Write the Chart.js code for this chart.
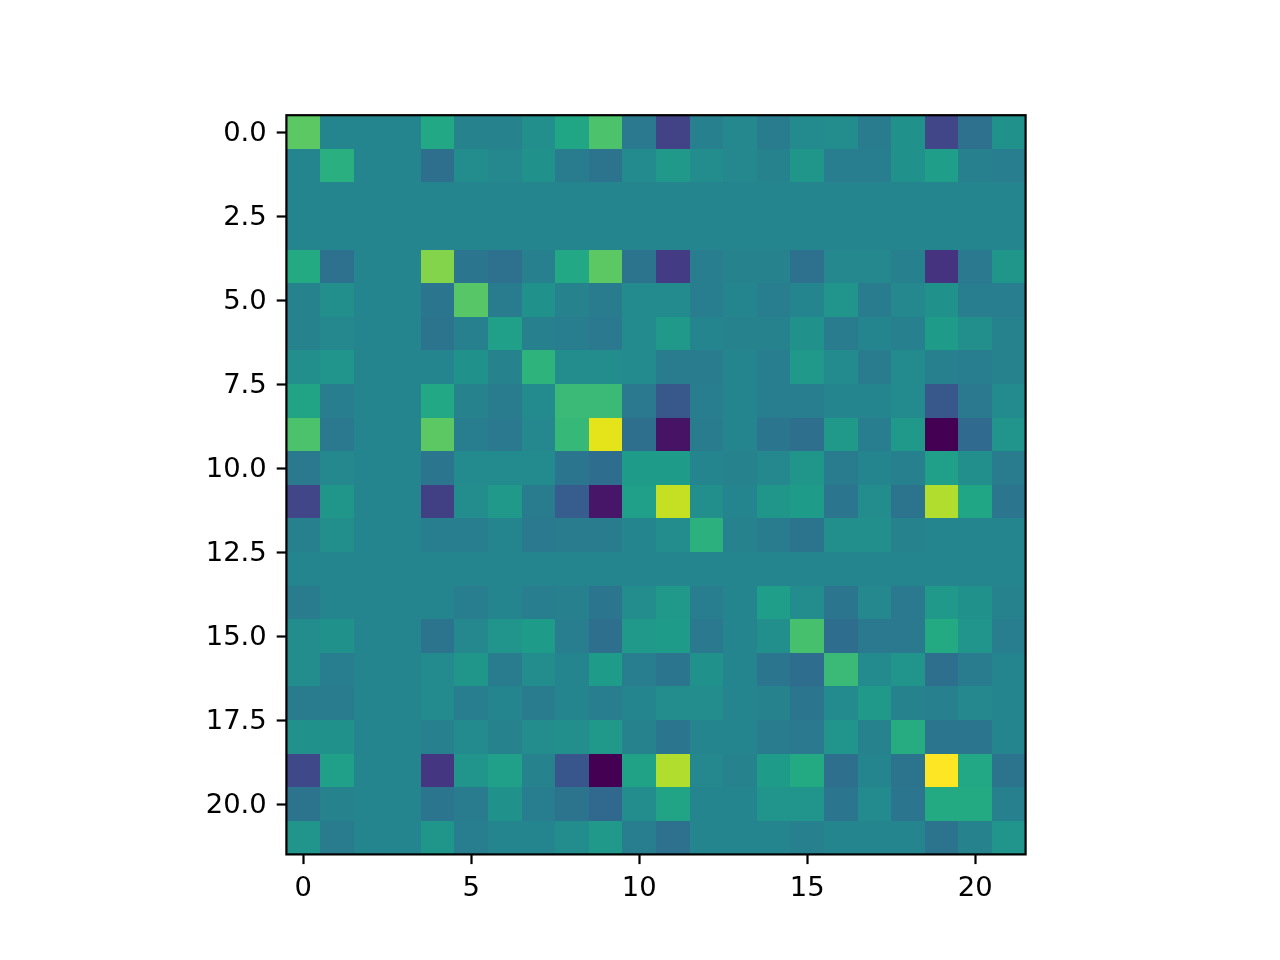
<!DOCTYPE html>
<html><head><meta charset="utf-8">
<style>html,body{margin:0;padding:0;background:#fff}canvas{display:block}</style>
<script src="https://cdn.jsdelivr.net/npm/chart.js@4"></script>
</head><body><canvas id="c" width="1280" height="960"></canvas>
<script>
const xTicks=[0,5,10,15,20];
const yTicks=[0,2.5,5,7.5,10,12.5,15,17.5,20];
const row0=[.74,.44,.44,.44,.59,.43,.43,.48,.58,.71,.39,.18,.42,.45,.40,.46,.47,.40,.49,.19,.36,.49];
const row1=[.44,.62,.44,.44,.35,.47,.45,.49,.40,.37,.46,.52,.47,.45,.43,.51,.41,.41,.49,.54,.42,.41];
const row2=[.44,.44,.44,.44,.44,.44,.44,.44,.44,.44,.44,.44,.44,.44,.44,.44,.44,.44,.44,.44,.44,.44];
const row3=[.44,.44,.44,.44,.44,.44,.44,.44,.44,.44,.44,.44,.44,.44,.44,.44,.44,.44,.44,.44,.44,.44];
const row4=[.60,.36,.44,.44,.81,.38,.36,.42,.59,.74,.37,.16,.41,.43,.43,.36,.45,.45,.42,.13,.39,.51];
const row5=[.43,.48,.44,.44,.38,.73,.40,.49,.43,.40,.46,.46,.41,.44,.41,.44,.50,.40,.45,.49,.41,.41];
const row6=[.43,.45,.44,.44,.37,.42,.55,.42,.41,.39,.46,.52,.44,.43,.43,.49,.40,.44,.42,.53,.48,.43];
const row7=[.48,.50,.44,.44,.44,.49,.43,.64,.47,.47,.46,.40,.40,.44,.41,.52,.46,.40,.46,.42,.41,.43];
const row8=[.57,.41,.44,.44,.59,.43,.40,.46,.67,.67,.39,.26,.41,.44,.41,.41,.44,.44,.46,.26,.39,.46];
const row9=[.71,.39,.44,.44,.74,.41,.39,.45,.66,.96,.35,.03,.40,.44,.38,.35,.52,.41,.52,-.02,.33,.50];
const row10=[.39,.45,.44,.44,.38,.46,.46,.46,.38,.34,.53,.53,.44,.43,.45,.51,.40,.44,.42,.55,.48,.40];
const row11=[.19,.51,.44,.44,.17,.47,.52,.40,.28,.04,.55,.91,.48,.44,.51,.53,.38,.47,.37,.88,.58,.38];
const row12=[.42,.48,.44,.44,.41,.41,.44,.39,.40,.40,.44,.47,.63,.43,.40,.37,.48,.48,.43,.44,.44,.44];
const row13=[.44,.44,.44,.44,.44,.44,.44,.44,.44,.44,.44,.44,.44,.44,.44,.44,.44,.44,.44,.44,.44,.44];
const row14=[.40,.44,.44,.44,.44,.41,.44,.41,.42,.38,.47,.52,.41,.44,.54,.47,.38,.45,.39,.52,.49,.43];
const row15=[.47,.49,.44,.44,.37,.45,.50,.53,.41,.35,.52,.53,.39,.44,.48,.70,.34,.39,.39,.60,.50,.41];
const row16=[.47,.41,.44,.44,.46,.51,.40,.47,.44,.53,.41,.38,.49,.44,.38,.34,.67,.46,.50,.35,.40,.44];
const row17=[.40,.40,.44,.44,.46,.41,.44,.40,.44,.41,.44,.47,.47,.44,.43,.38,.46,.52,.43,.42,.45,.44];
const row18=[.49,.49,.44,.44,.42,.46,.43,.47,.48,.52,.43,.38,.44,.44,.40,.39,.50,.43,.61,.38,.38,.44];
const row19=[.20,.55,.44,.44,.14,.50,.55,.43,.25,-.02,.56,.88,.45,.43,.53,.60,.35,.44,.37,1.0,.59,.37];
const row20=[.37,.43,.44,.44,.38,.40,.49,.41,.37,.32,.47,.57,.44,.44,.50,.50,.38,.46,.38,.60,.60,.42];
const row21=[.50,.40,.44,.44,.51,.41,.44,.44,.47,.52,.41,.36,.44,.44,.44,.42,.44,.44,.44,.37,.43,.50];
const rows=[row0,row1,row2,row3,row4,row5,row6,row7,row8,row9,row10,row11,row12,row13,row14,row15,row16,row17,row18,row19,row20,row21];
const viridis=['#440154','#471365','#482475','#463480','#414487','#3b528b','#355f8d','#2f6c8e','#2a788e','#25858e','#21918c','#1f9e89','#22a884','#2fb47c','#44bf70','#5ec962','#7ad151','#9bd93c','#bddf26','#dfe318','#fde725'];
function hex(h){return [1,3,5].map(i=>parseInt(h.substr(i,2),16));}
const all=rows.flat(),vmin=Math.min(...all),vmax=Math.max(...all);
function colorOf(v){
  const t=(v-vmin)/(vmax-vmin)*20,i=Math.min(19,Math.floor(t)),f=t-i;
  const a=hex(viridis[i]),b=hex(viridis[i+1]);
  return 'rgb('+a.map((c,k)=>Math.round(c+(b[k]-c)*f)).join(',')+')';
}
const cells=[];
rows.forEach((r,y)=>r.forEach((v,x)=>cells.push({x,y,v})));
const heatmap={id:'heatmap',
  beforeDatasetsDraw(chart){
    const {ctx,scales:{x:sx,y:sy}}=chart;
    chart.data.datasets[0].data.forEach(d=>{
      const x0=Math.round(sx.getPixelForValue(d.x-.5)),x1=Math.round(sx.getPixelForValue(d.x+.5));
      const y0=Math.round(sy.getPixelForValue(d.y-.5)),y1=Math.round(sy.getPixelForValue(d.y+.5));
      ctx.fillStyle=colorOf(d.v);
      ctx.fillRect(x0,y0,x1-x0,y1-y0);
    });
  },
  afterDraw(chart){
    const {ctx,chartArea:a}=chart;
    ctx.save();ctx.strokeStyle='#000';ctx.lineWidth=2.2;
    ctx.strokeRect(a.left,a.top,a.right-a.left,a.bottom-a.top);
    ctx.restore();
  }};
const font={family:'"DejaVu Sans"',size:27.4};
function axis(ticks,fmt,pad,off){return {
  type:'linear',min:-.5,max:21.5,
  afterBuildTicks(s){s.ticks=ticks.map(value=>({value}));},
  ticks:{autoSkip:false,maxRotation:0,minRotation:0,color:'#000',font,padding:pad,labelOffset:off,callback:fmt},
  grid:{display:true,drawOnChartArea:false,drawTicks:true,tickLength:9.7,tickWidth:2.2,tickColor:'#000'},
  border:{display:false}
};}
const xAxis=axis(xTicks,v=>String(v),8,0);
xAxis.position='bottom';
xAxis.afterFit=s=>{s.height=960-854.4;};
const yAxis=axis(yTicks,v=>v.toFixed(1),10,2);
yAxis.position='left';yAxis.reverse=true;
yAxis.afterFit=s=>{s.width=286.4;};
new Chart(document.getElementById('c'),{
  type:'scatter',
  data:{datasets:[{data:cells,pointRadius:0,pointHoverRadius:0}]},
  options:{responsive:false,animation:false,
    layout:{padding:{left:0,top:115.2,right:1280-1025.6,bottom:0}},
    plugins:{legend:{display:false},title:{display:false},tooltip:{enabled:false}},
    events:[],
    scales:{x:xAxis,y:yAxis}},
  plugins:[heatmap]
});
</script></body></html>
